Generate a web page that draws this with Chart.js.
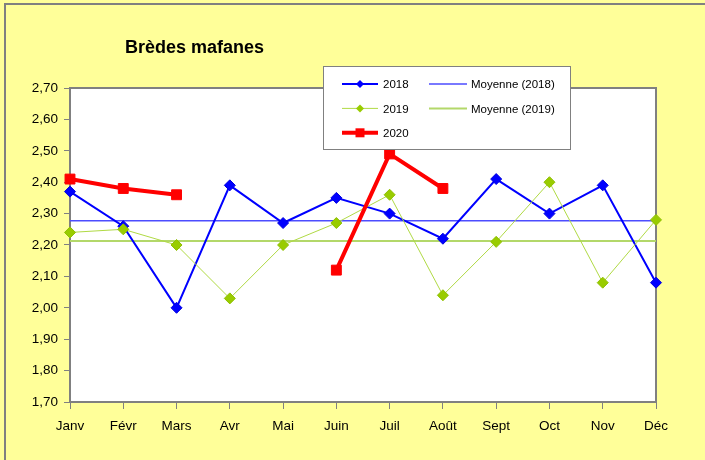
<!DOCTYPE html>
<html>
<head>
<meta charset="utf-8">
<script src="https://cdn.jsdelivr.net/npm/chart.js@4/dist/chart.umd.min.js"></script>
<style>
  body { margin: 0; background: #FFFF99; }
  #wrap { width: 705px; height: 460px; }
</style>
</head>
<body>
<div id="wrap"><canvas id="myChart" width="705" height="460"></canvas></div>
<script>
const months = ['Janv', 'Févr', 'Mars', 'Avr', 'Mai', 'Juin', 'Juil', 'Août', 'Sept', 'Oct', 'Nov', 'Déc'];
const values2018 = [2.37, 2.26, 2.00, 2.39, 2.27, 2.35, 2.30, 2.22, 2.41, 2.30, 2.39, 2.08];
const values2019 = [2.24, 2.25, 2.20, 2.03, 2.20, 2.27, 2.36, 2.04, 2.21, 2.40, 2.08, 2.28];
const values2020 = [2.41, 2.38, 2.36, null, null, 2.12, 2.49, 2.38, null, null, null, null];
const moyenne2018 = 2.277;
const moyenne2019 = 2.213;
const chartTitle = 'Brèdes mafanes';

const FONT = '"Liberation Sans", Arial, sans-serif';

// background, frame and title
const framePlugin = {
  id: 'frame',
  beforeDraw(chart) {
    const { ctx, chartArea: a } = chart;
    ctx.save();
    ctx.fillStyle = '#FFFF99';
    ctx.fillRect(0, 0, chart.width, chart.height);
    ctx.strokeStyle = '#808080';
    ctx.lineWidth = 2;
    ctx.beginPath();
    ctx.moveTo(5, chart.height);
    ctx.lineTo(5, 4);
    ctx.lineTo(chart.width, 4);
    ctx.stroke();
    ctx.fillStyle = '#FFFFFF';
    ctx.fillRect(a.left, a.top, a.right - a.left, a.bottom - a.top);
    ctx.strokeRect(a.left, a.top, a.right - a.left, a.bottom - a.top);
    ctx.fillStyle = '#000';
    ctx.font = 'bold 18px ' + FONT;
    ctx.textAlign = 'left';
    ctx.textBaseline = 'middle';
    ctx.fillText(chartTitle, 125, 48);
    ctx.restore();
  },
};

function marker(ctx, style, x, y, r, color) {
  ctx.fillStyle = color;
  ctx.beginPath();
  if (style === 'rectRot') {
    ctx.moveTo(x - r, y);
    ctx.lineTo(x, y - r);
    ctx.lineTo(x + r, y);
    ctx.lineTo(x, y + r);
  } else {
    ctx.rect(x - r, y - r, 2 * r, 2 * r);
  }
  ctx.closePath();
  ctx.fill();
}

// two column legend box like the original
const legendBox = {
  id: 'legendBox',
  afterDatasetsDraw(chart) {
    const { ctx } = chart;
    const items = [
      { label: '2018', col: 0, row: 0, m: 4 },
      { label: 'Moyenne (2018)', col: 1, row: 0 },
      { label: '2019', col: 0, row: 1, m: 4 },
      { label: 'Moyenne (2019)', col: 1, row: 1 },
      { label: '2020', col: 0, row: 2, m: 4.5 },
    ];
    ctx.save();
    ctx.fillStyle = '#FFFFFF';
    ctx.fillRect(323.5, 66.5, 247, 83);
    ctx.strokeStyle = '#808080';
    ctx.lineWidth = 1;
    ctx.strokeRect(323.5, 66.5, 247, 83);
    ctx.font = '11.5px ' + FONT;
    ctx.textBaseline = 'middle';
    items.forEach((it) => {
      const ds = chart.data.datasets.find((d) => d.label === it.label);
      const y = 84 + it.row * 24.4;
      const x0 = it.col === 0 ? 342 : 429;
      const x1 = it.col === 0 ? 378 : 467;
      ctx.strokeStyle = ds.borderColor;
      ctx.lineWidth = ds.borderWidth;
      ctx.beginPath();
      ctx.moveTo(x0, y);
      ctx.lineTo(x1, y);
      ctx.stroke();
      if (it.m) marker(ctx, ds.pointStyle, 360, y, it.m, ds.pointBackgroundColor);
      ctx.fillStyle = '#000';
      ctx.fillText(it.label, it.col === 0 ? 383 : 471, y + 1);
    });
    ctx.restore();
  },
};

const data = {
  labels: months,
  datasets: [
    {
      label: '2020',
      data: values2020,
      borderColor: '#FF0000',
      borderWidth: 4,
      pointStyle: 'rect',
      pointRadius: 7,
      pointBackgroundColor: '#FF0000',
      pointBorderColor: '#FF0000',
      pointBorderWidth: 1,
      spanGaps: false,
    },
    {
      label: '2019',
      data: values2019,
      borderColor: '#B0DA44',
      borderWidth: 1,
      pointStyle: 'rectRot',
      pointRadius: 5.5,
      pointBackgroundColor: '#99CC00',
      pointBorderColor: '#8FC000',
      pointBorderWidth: 1,
    },
    {
      label: '2018',
      data: values2018,
      borderColor: '#0000FF',
      borderWidth: 2,
      pointStyle: 'rectRot',
      pointRadius: 5.5,
      pointBackgroundColor: '#0000FF',
      pointBorderColor: '#0000E0',
      pointBorderWidth: 1,
    },
    {
      label: 'Moyenne (2018)',
      data: months.map(() => moyenne2018),
      borderColor: '#4D4DFF',
      borderWidth: 1.5,
      pointRadius: 0,
    },
    {
      label: 'Moyenne (2019)',
      data: months.map(() => moyenne2019),
      borderColor: '#B3D86A',
      borderWidth: 2,
      pointRadius: 0,
    },
  ],
};

const config = {
  type: 'line',
  data,
  plugins: [framePlugin, legendBox],
  options: {
    responsive: false,
    animation: false,
    clip: false,
    layout: { padding: { top: 88, right: 49, left: 0, bottom: 0 } },
    plugins: {
      legend: { display: false },
      title: { display: false },
      tooltip: { enabled: false },
    },
    scales: {
      x: {
        offset: false,
        border: { display: false },
        grid: { drawOnChartArea: false, drawTicks: true, tickLength: 7, tickColor: '#808080', tickWidth: 1 },
        ticks: { color: '#000', font: { family: FONT, size: 13.5 }, padding: 9, maxRotation: 0, autoSkip: false },
        afterFit(scale) { scale.height = 58; },
      },
      y: {
        min: 1.7,
        max: 2.7,
        border: { display: false },
        grid: { drawOnChartArea: false, drawTicks: true, tickLength: 6, tickColor: '#808080', tickWidth: 1 },
        ticks: {
          stepSize: 0.1,
          color: '#000',
          font: { family: FONT, size: 13.5 },
          padding: 6,
          callback: (v) => v.toFixed(2).replace('.', ','),
        },
        afterFit(scale) { scale.width = 70; },
      },
    },
  },
};

new Chart(document.getElementById('myChart'), config);
</script>
</body>
</html>
